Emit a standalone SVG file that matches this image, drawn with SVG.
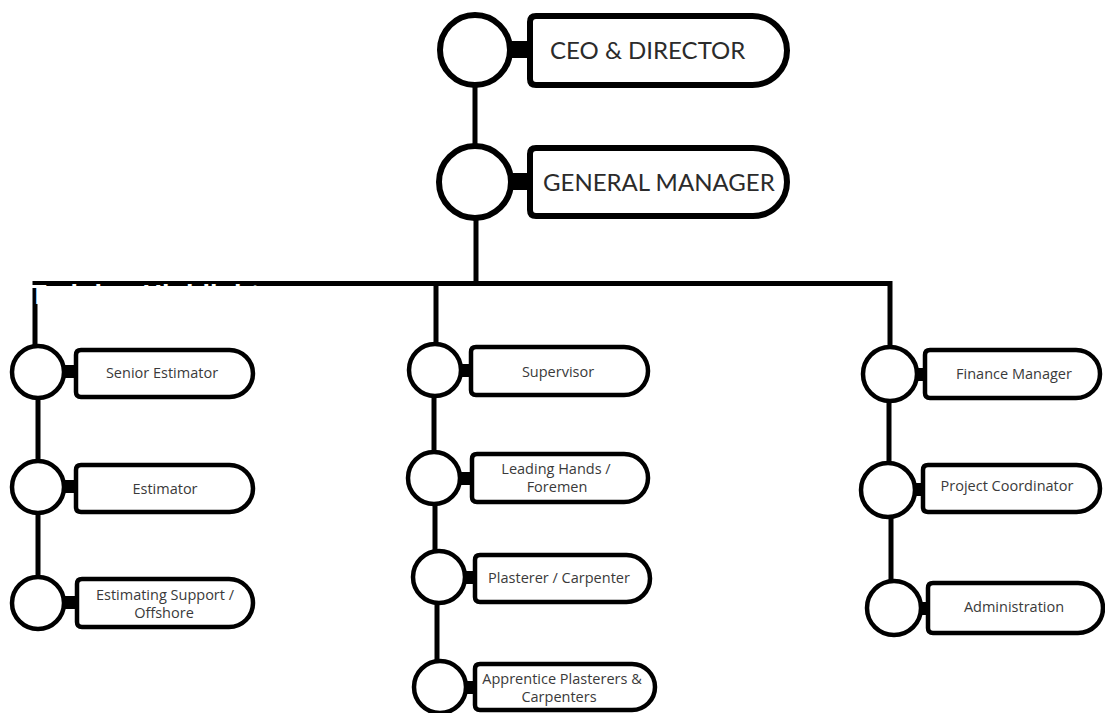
<svg xmlns="http://www.w3.org/2000/svg" width="1105" height="713" viewBox="0 0 1105 713">
<style>
.bg{fill:#ffffff}
.big{fill:#fff;stroke:#000;stroke-width:6}
.sm{fill:#fff;stroke:#000;stroke-width:4.5}
.neck{fill:#000}
.conn{fill:none;stroke:#000;stroke-width:5;stroke-linejoin:miter;stroke-linecap:butt}
.ht{font-family:Lato,"Liberation Sans",sans-serif;font-size:24px;fill:#2b2b2b;text-anchor:start}
.st{font-family:"Open Sans","Noto Sans",sans-serif;font-size:14.5px;fill:#3a3a3a;text-anchor:middle}
.wt{font-family:"Liberation Sans",Arial,sans-serif;font-weight:bold;font-size:27px;fill:#fff}
</style>
<rect class="bg" x="0" y="0" width="1105" height="713"/>
<g id="connectors">
<path class="conn" d="M475,86 V146"/>
<path class="conn" d="M476,218 V283"/>
<path class="conn" d="M35,346 V283.5 H890 V347"/>
<path class="conn" d="M436,283 V344"/>
<path class="conn" d="M434,396 V452"/>
<path class="conn" d="M435,504 V551"/>
<path class="conn" d="M437,603 V661"/>
<path class="conn" d="M38,398 V461"/>
<path class="conn" d="M38,513 V577"/>
<path class="conn" d="M889,401 V463"/>
<path class="conn" d="M891,517 V581"/>
</g>
<g id="ceo">
<rect class="neck" x="506" y="41" width="26" height="17"/>
<circle class="big" cx="475" cy="50" r="35"/>
<path class="big" d="M536,16 H752.5 A34.5,34.5 0 0 1 752.5,85 H536 Q530,85 530,79 V22 Q530,16 536,16 Z"/>
<text class="ht" x="550" y="59">CEO &amp; DIRECTOR</text>
</g>
<g id="gm">
<rect class="neck" x="507" y="173" width="25" height="17"/>
<circle class="big" cx="475" cy="182" r="36"/>
<path class="big" d="M536,148 H753 A34,34 0 0 1 753,216 H536 Q530,216 530,210 V154 Q530,148 536,148 Z"/>
<text class="ht" x="543" y="191">GENERAL MANAGER</text>
</g>
<g id="senior-estimator">
<rect class="neck" x="60" y="365" width="18" height="13"/>
<circle class="sm" cx="38" cy="372" r="26"/>
<path class="sm" d="M81,350 H229.5 A23.5,23.5 0 0 1 229.5,397 H81 Q76,397 76,392 V355 Q76,350 81,350 Z"/>
<text class="st" x="162" y="378">Senior Estimator</text>
</g>
<g id="estimator">
<rect class="neck" x="60" y="480" width="18" height="13"/>
<circle class="sm" cx="38" cy="487" r="26"/>
<path class="sm" d="M81,465 H229.5 A23.5,23.5 0 0 1 229.5,512 H81 Q76,512 76,507 V470 Q76,465 81,465 Z"/>
<text class="st" x="165" y="494">Estimator</text>
</g>
<g id="estimating-support">
<rect class="neck" x="60" y="596" width="19" height="13"/>
<circle class="sm" cx="38" cy="603" r="26"/>
<path class="sm" d="M82,579 H229 A24,24 0 0 1 229,627 H82 Q77,627 77,622 V584 Q77,579 82,579 Z"/>
<text class="st" x="165" y="600">Estimating Support /</text>
<text class="st" x="164" y="618">Offshore</text>
</g>
<g id="supervisor">
<rect class="neck" x="457" y="364" width="16" height="13"/>
<circle class="sm" cx="435" cy="370" r="26"/>
<path class="sm" d="M476,347 H624 A24,24 0 0 1 624,395 H476 Q471,395 471,390 V352 Q471,347 476,347 Z"/>
<text class="st" x="558" y="377">Supervisor</text>
</g>
<g id="leading-hands">
<rect class="neck" x="456" y="472" width="18" height="13"/>
<circle class="sm" cx="434" cy="478" r="26"/>
<path class="sm" d="M477,454 H624 A24,24 0 0 1 624,502 H477 Q472,502 472,497 V459 Q472,454 477,454 Z"/>
<text class="st" x="556" y="474">Leading Hands /</text>
<text class="st" x="557" y="492">Foremen</text>
</g>
<g id="plasterer">
<rect class="neck" x="461" y="571" width="16" height="13"/>
<circle class="sm" cx="439" cy="577" r="26"/>
<path class="sm" d="M480,555 H626.5 A23.5,23.5 0 0 1 626.5,602 H480 Q475,602 475,597 V560 Q475,555 480,555 Z"/>
<text class="st" x="559" y="583">Plasterer / Carpenter</text>
</g>
<g id="apprentice">
<rect class="neck" x="462" y="681" width="16" height="13"/>
<circle class="sm" cx="440" cy="687" r="26"/>
<path class="sm" d="M480,664 H632 A23,23 0 0 1 632,710 H480 Q475,710 475,705 V669 Q475,664 480,664 Z"/>
<text class="st" x="562" y="684">Apprentice Plasterers &amp;</text>
<text class="st" x="559" y="702">Carpenters</text>
</g>
<g id="finance-manager">
<rect class="neck" x="912" y="368" width="16" height="13"/>
<circle class="sm" cx="890" cy="374" r="27"/>
<path class="sm" d="M930,350 H1076 A24,24 0 0 1 1076,398 H930 Q925,398 925,393 V355 Q925,350 930,350 Z"/>
<text class="st" x="1014" y="379">Finance Manager</text>
</g>
<g id="project-coordinator">
<rect class="neck" x="910" y="483" width="16" height="13"/>
<circle class="sm" cx="888" cy="490" r="27"/>
<path class="sm" d="M928,465 H1076.5 A23.5,23.5 0 0 1 1076.5,512 H928 Q923,512 923,507 V470 Q923,465 928,465 Z"/>
<text class="st" x="1007" y="491">Project Coordinator</text>
</g>
<g id="administration">
<rect class="neck" x="916" y="602" width="16" height="13"/>
<circle class="sm" cx="894" cy="608" r="27"/>
<path class="sm" d="M933,583 H1078 A25,25 0 0 1 1078,633 H933 Q928,633 928,628 V588 Q928,583 933,583 Z"/>
<text class="st" x="1014" y="612">Administration</text>
</g>
<text class="wt" x="30" y="304">Training Highlights</text>
</svg>
